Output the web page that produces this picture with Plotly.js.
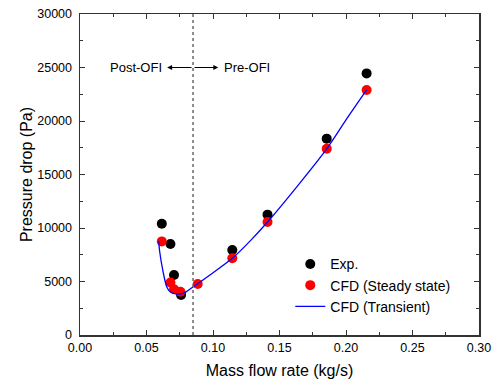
<!DOCTYPE html>
<html>
<head>
<meta charset="utf-8">
<script src="https://cdn.plot.ly/plotly-3.0.1.min.js"></script>
<style>html,body{margin:0;padding:0;background:#fff;}#chart{width:497px;height:385px;}</style>
</head>
<body>
<div id="chart"></div>
<script>
// Experimental data
const expX = [0.0615, 0.068, 0.0707, 0.076, 0.1145, 0.141, 0.1855, 0.2155];
const expY = [10400, 8500, 5600, 3750, 7950, 11250, 18350, 24450];
// CFD steady state
const steadyX = [0.0615, 0.068, 0.0707, 0.0755, 0.0885, 0.1145, 0.141, 0.1855, 0.2155];
const steadyY = [8750, 4900, 4270, 4050, 4770, 7170, 10560, 17400, 22900];
// CFD transient curve
const transX = [0.0592, 0.0598, 0.0627, 0.0652, 0.0677, 0.0727, 0.0777, 0.0852, 0.0977, 0.1145, 0.128, 0.141, 0.163, 0.1855, 0.20, 0.2155];
const transY = [8800, 7900, 5770, 4510, 4050, 3830, 3890, 4510, 5610, 7170, 8800, 10560, 13850, 17400, 20100, 22900];
// Dividing line and labels
const ofiX = 0.085;
const yTicks = [0, 5000, 10000, 15000, 20000, 25000, 30000];
const xTicks = [0.00, 0.05, 0.10, 0.15, 0.20, 0.25, 0.30];

const font = 'Liberation Sans, Arial, sans-serif';

const traces = [
  {x: expX, y: expY, type: 'scatter', mode: 'markers', name: 'Exp.',
   marker: {color: '#000000', size: 10}},
  {x: steadyX, y: steadyY, type: 'scatter', mode: 'markers', name: 'CFD (Steady state)',
   marker: {color: '#ff0000', size: 10}},
  {x: transX, y: transY, type: 'scatter', mode: 'lines', name: 'CFD (Transient)',
   line: {color: '#0000ff', width: 1.3, shape: 'spline', smoothing: 0.8}}
];

const axisCommon = {
  showgrid: false, zeroline: false, showline: true, linecolor: '#333', linewidth: 1.5,
  mirror: 'allticks', ticks: 'inside', ticklen: 5, tickwidth: 1, tickcolor: '#333',
  tickfont: {family: font, size: 12.5, color: '#000'}
};

const layout = {
  width: 497, height: 385,
  margin: {l: 80, r: 18, t: 14, b: 50},
  paper_bgcolor: '#fff', plot_bgcolor: '#fff',
  font: {family: font, size: 13, color: '#000'},
  xaxis: Object.assign({}, axisCommon, {
    range: [0, 0.30], tickvals: xTicks, tickformat: '.2f',
    minor: {dtick: 0.025, tick0: 0, ticks: 'inside', ticklen: 3, tickcolor: '#333'},
    title: {text: 'Mass flow rate (kg/s)', font: {family: font, size: 16}, standoff: 11}
  }),
  yaxis: Object.assign({}, axisCommon, {
    range: [0, 30000], tickvals: yTicks, tickformat: 'd', ticklabelstandoff: 4,
    minor: {dtick: 2500, tick0: 0, ticks: 'inside', ticklen: 3, tickcolor: '#333'},
    title: {text: 'Pressure drop (Pa)', font: {family: font, size: 16}, standoff: 0}
  }),
  showlegend: true,
  legend: {x: 0.527, y: 0.27, xanchor: 'left', yanchor: 'top', bgcolor: 'rgba(0,0,0,0)',
           font: {family: font, size: 14}, tracegroupgap: 0},
  shapes: [
    {type: 'line', xref: 'x', yref: 'y', x0: ofiX, x1: ofiX, y0: 0, y1: 30000,
     line: {color: '#666', width: 1.5, dash: 'dot'}}
  ],
  annotations: [
    {x: 0.0635, y: 25000, xref: 'x', yref: 'y', text: 'Post-OFI', showarrow: false,
     xanchor: 'right', font: {family: font, size: 13}},
    {x: 0.1065, y: 25000, xref: 'x', yref: 'y', text: 'Pre-OFI', showarrow: false,
     xanchor: 'left', font: {family: font, size: 13}},
    {x: 0.0655, y: 25000, ax: ofiX, ay: 25000, xref: 'x', yref: 'y', axref: 'x', ayref: 'y',
     text: '', showarrow: true, arrowhead: 2, arrowsize: 1, arrowwidth: 1, arrowcolor: '#000'},
    {x: 0.104, y: 25000, ax: ofiX, ay: 25000, xref: 'x', yref: 'y', axref: 'x', ayref: 'y',
     text: '', showarrow: true, arrowhead: 2, arrowsize: 1, arrowwidth: 1, arrowcolor: '#000'}
  ]
};

Plotly.newPlot('chart', traces, layout, {displayModeBar: false, staticPlot: true});
</script>
</body>
</html>
